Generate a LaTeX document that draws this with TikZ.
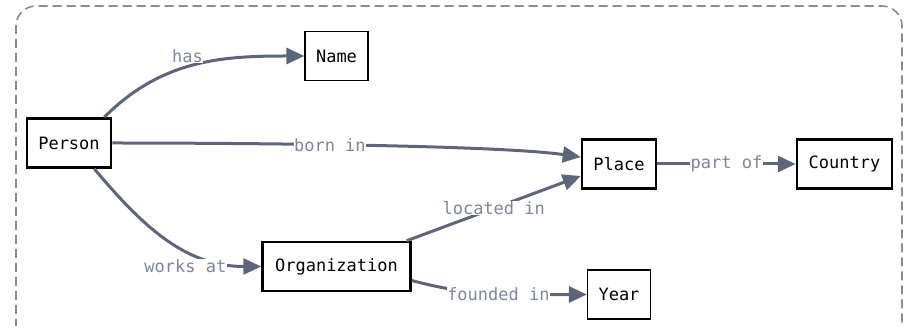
\documentclass[tikz,border=0pt]{standalone}
\usepackage{fontspec}
\newfontfamily\codefont{DejaVu Sans Mono}
\usetikzlibrary{arrows.meta,positioning}
\definecolor{edgegray}{HTML}{5C657A}
\definecolor{lblgray}{HTML}{7D879B}
\definecolor{framegray}{HTML}{8C8C8C}

\begin{document}
\begin{tikzpicture}[x=1pt,y=1pt,
    ->,>={Triangle[length=18pt,width=16pt]},
    entity/.style={rectangle,draw,line width=2.5pt,inner sep=0pt,minimum height=49pt,font=\codefont\fontsize{17}{20}\selectfont},
    attr/.style={entity,line width=1.3pt},
    lbl/.style={fill=white,inner sep=0.5pt,text=lblgray,font=\codefont\fontsize{17}{20}\selectfont},
    rel/.style={draw=edgegray,line width=3pt}]

  \useasboundingbox (0,0) rectangle (914,326);
  \draw[-,framegray,line width=1.6pt,dash pattern=on 9pt off 5pt,rounded corners=20pt]
    (16,-30) -- (16,320) -- (902,320) -- (902,-30);

  \node[entity,minimum width=84pt] (person) at (69,183) {Person};
  \node[attr,minimum width=63pt]   (name)   at (336.5,270) {Name};
  \node[entity,minimum width=148pt] (org) [below of=name,node distance=210.5pt] {Organization};
  \node[entity,minimum width=74pt] (place)  at (619,162) {Place};
  \node[entity,minimum width=95pt] (country) [right of=place,node distance=225.5pt] {Country};
  \node[attr,minimum width=63pt]   (year) [below of=place,node distance=130.5pt] {Year};

  \path ([xshift=-8pt]person.north east) edge [rel,out=45,in=180] node[lbl,pos=0.46,above=2pt] {has} (name.west);
  \path (person.east) edge [rel,out=0,in=172,looseness=0.5] node[lbl,pos=0.47] {born in} ([yshift=7pt]place.west);
  \path ([xshift=-18pt]person.south east) edge [rel,out=-50,in=180] node[lbl,at end,anchor=east,xshift=-33pt] {works at} (org.west);
  \path ([xshift=-5pt]org.north east) edge [rel] node[lbl] {located in} ([yshift=-12pt]place.west);
  \path ([yshift=-14pt]org.east) edge [rel,out=-15,in=180] node[lbl,pos=0.5] {founded in} (year.west);
  \path (place.east) edge [rel] node[lbl] {part of} (country.west);
\end{tikzpicture}
\end{document}
